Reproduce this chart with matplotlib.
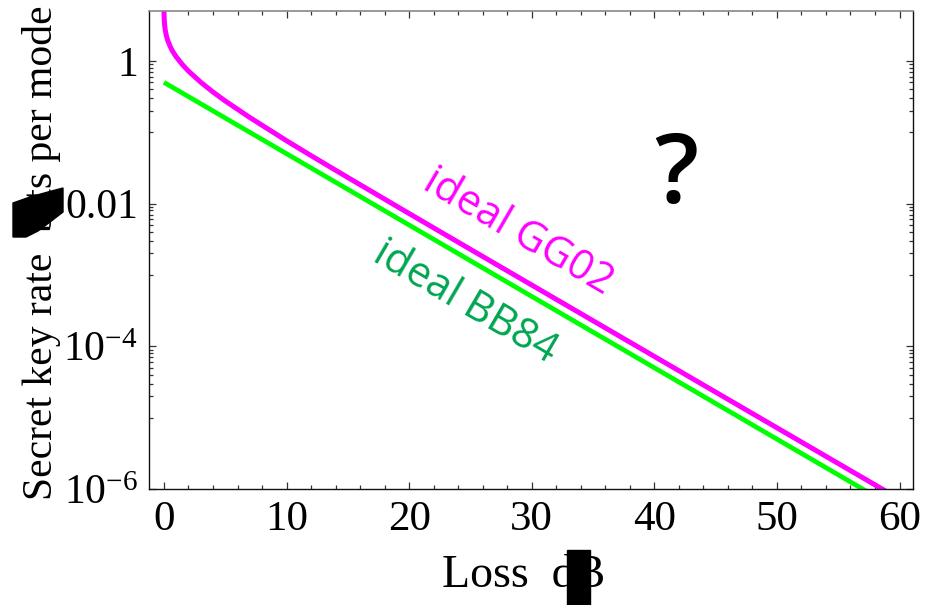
import matplotlib
matplotlib.use("Agg")
import matplotlib.pyplot as plt
from matplotlib.patches import Rectangle, Polygon
from matplotlib.ticker import FixedLocator, NullFormatter

# ---- data ----
loss_gg02 = [0.003, 0.004, 0.005, 0.01, 0.02, 0.05, 0.1, 0.2, 0.3, 0.5, 0.7, 1, 1.5, 2, 3, 4, 5,
             7, 10, 12, 15, 20, 25, 30, 40, 50, 60]
rate_gg02 = [5.25, 5.04, 4.88, 4.38, 3.88, 3.22, 2.73, 2.24, 1.95, 1.60, 1.37, 1.14, 0.888, 0.719,
             0.502, 0.366, 0.274, 0.161, 0.0760, 0.0470, 0.0232, 0.00725, 0.002285, 7.22e-4,
             7.21e-5, 7.21e-6, 7.21e-7]
loss_bb84 = [0, 10, 20, 30, 40, 50, 60]
rate_bb84 = [0.5, 0.05, 0.005, 5e-4, 5e-5, 5e-6, 5e-7]

xticks = [0, 10, 20, 30, 40, 50, 60]
yticks = [1e-6, 1e-4, 1e-2, 1]
ytick_labels = [r"$10^{-6}$", r"$10^{-4}$", "0.01", "1"]

W, H = 934, 605
plt.rcParams["mathtext.fontset"] = "custom"
plt.rcParams["mathtext.rm"] = "Liberation Serif"
plt.rcParams["mathtext.it"] = "Liberation Serif:italic"

fig = plt.figure(figsize=(W / 100, H / 100), dpi=100)
ax = fig.add_axes([149 / W, 1 - 489 / H, (913 - 149) / W, (489 - 11) / H])

ax.plot(loss_bb84, rate_bb84, color="#00FF00", lw=3.4, solid_capstyle="butt")
ax.plot(loss_gg02, rate_gg02, color="#FF00FF", lw=3.6, solid_capstyle="butt")

ax.set_yscale("log")
ax.set_xlim(-1.22, 61.1)
ax.set_ylim(1e-6, 5.0)

ax.set_xticks(xticks)
ax.set_xticklabels([str(v) for v in xticks])
ax.xaxis.set_minor_locator(FixedLocator([v for v in range(0, 62, 2) if v % 10 != 0]))
ax.set_yticks(yticks)
ax.set_yticklabels(ytick_labels)
minors = []
for M in [1, 1e-2, 1e-4]:
    for m in range(1, 10):
        minors.append(M * m / 10)
ax.yaxis.set_minor_locator(FixedLocator(minors))
ax.yaxis.set_minor_formatter(NullFormatter())

for lab in ax.get_xticklabels():
    lab.set_fontfamily("Liberation Serif")
    lab.set_fontsize(31)
for lab in ax.get_yticklabels():
    lab.set_fontfamily("Liberation Serif")
    lab.set_fontsize(30)

ax.tick_params(which="both", direction="in", top=True, right=True, width=0.9, color="#333333")
ax.tick_params(which="major", length=5)
ax.tick_params(which="minor", length=3)
ax.tick_params(axis="x", which="major", pad=8)
ax.tick_params(axis="y", which="major", pad=8)
for s in ["left", "right", "bottom"]:
    ax.spines[s].set_linewidth(1.0)
    ax.spines[s].set_color("#111111")
ax.spines["top"].set_color("#888888")
ax.spines["top"].set_linewidth(1.2)

# in-plot annotations
ax.text(28.9, 0.0040, "ideal GG02", color="#FF00FF", fontsize=30, family="Open Sans",
        rotation=-30.3, rotation_mode="anchor", ha="center", va="center")
ax.text(24.6, 0.00042, "ideal BB84", color="#00A651", fontsize=30, family="Open Sans",
        rotation=-30.3, rotation_mode="anchor", ha="center", va="center")
ax.text(41.8, 0.023, "?", color="black", fontsize=70, family="Open Sans", weight="semibold",
        ha="center", va="center")

# axis labels
fig.text(524 / W, 1 - 587 / H, "Loss  dB", family="Liberation Serif", fontsize=33,
         ha="center", va="baseline")
fig.text(52 / W, 1 - 500 / H, "Secret key rate  bits per mode", family="Liberation Serif",
         fontsize=30, rotation=90, ha="left", va="baseline", rotation_mode="anchor")

# black rendering blocks seen in the reference labels
fig.patches.append(Rectangle((567 / W, 0), 23 / W, (605 - 550) / H, transform=fig.transFigure,
                             color="black", zorder=5))
poly = [(13, 203), (30, 197), (48, 192), (63, 188), (63, 212), (50, 222), (38, 231),
        (26, 237), (13, 237)]
fig.patches.append(Polygon([(x / W, 1 - y / H) for x, y in poly], closed=True,
                           transform=fig.transFigure, color="black", zorder=5))

fig.savefig("out.png", dpi=100)
